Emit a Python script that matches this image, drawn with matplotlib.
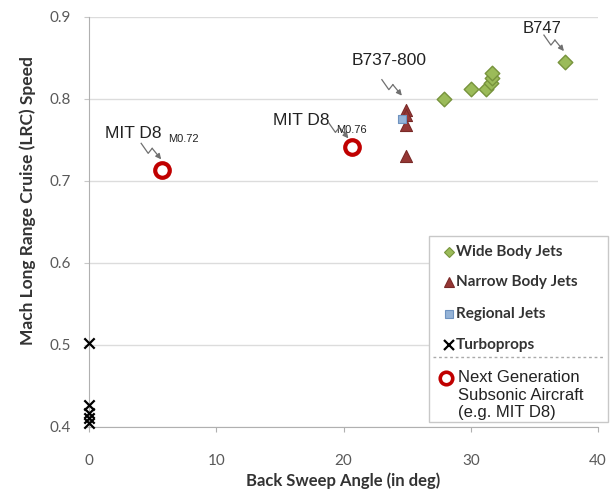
import numpy as np
import matplotlib.pyplot as plt
from matplotlib.patches import Rectangle
from matplotlib.lines import Line2D

# data
wide_x = [27.9, 30.0, 31.2, 31.6, 31.7, 31.7, 37.4]
wide_y = [0.800, 0.812, 0.812, 0.820, 0.826, 0.832, 0.845]
narrow_x = [24.9, 24.9, 24.9, 24.9]
narrow_y = [0.787, 0.780, 0.768, 0.730]
regional_x = [24.6]
regional_y = [0.776]
turbo_x = [0, 0, 0, 0, 0]
turbo_y = [0.502, 0.427, 0.417, 0.411, 0.405]
d8_x = [5.75, 20.7]
d8_y = [0.713, 0.741]

W, H = 616, 495
fig = plt.figure(figsize=(W/100, H/100), dpi=100)
ax = fig.add_axes([89/W, 1-427/H, (598-89)/W, (427-17)/H])

lab_font = 'Lato'
ann_font = 'Liberation Sans'
tick_col = '#595959'

ax.set_xlim(0, 40)
ax.set_ylim(0.4, 0.9)
ax.set_xticks([0, 10, 20, 30, 40])
ax.set_yticks([0.4, 0.5, 0.6, 0.7, 0.8, 0.9])
ax.set_yticklabels(['0.4', '0.5', '0.6', '0.7', '0.8', '0.9'])
ax.yaxis.grid(True, color='#dcdcdc', lw=1)
ax.set_axisbelow(True)
for s in ['top', 'right']:
    ax.spines[s].set_visible(False)
for s in ['left', 'bottom']:
    ax.spines[s].set_color('#b0b0b0')
ax.tick_params(axis='x', length=3.6, color='#b0b0b0', labelsize=11, pad=16)
ax.tick_params(axis='y', length=3.6, color='#c8c8c8', labelsize=11, pad=9.5)
for t in ax.get_xticklabels() + ax.get_yticklabels():
    t.set_fontfamily(lab_font)
    t.set_color(tick_col)
ax.set_xlabel('Back Sweep Angle (in deg)', fontfamily=lab_font, fontweight='bold', fontsize=12, color='#333333', labelpad=3)
ax.set_ylabel('Mach Long Range Cruise (LRC) Speed', fontfamily=lab_font, fontweight='bold', fontsize=12.5, color='#333333')
ax.yaxis.set_label_coords(-0.104, 0.553)

ax.scatter(wide_x, wide_y, marker='D', s=55, facecolor='#9bbb59', edgecolor='#77933c', lw=1, clip_on=False, zorder=3)
ax.scatter(narrow_x, narrow_y, marker='^', s=75, facecolor='#953735', edgecolor='#7a2a28', lw=0.8, clip_on=False, zorder=3)
ax.scatter(regional_x, regional_y, marker='s', s=40, facecolor='#95b3d7', edgecolor='#6f93c0', lw=0.8, clip_on=False, zorder=4)
ax.scatter(turbo_x, turbo_y, marker='x', s=55, color='black', lw=1.6, clip_on=False, zorder=3)
ax.scatter(d8_x, d8_y, marker='o', s=110, facecolor='white', edgecolor='#c00000', lw=3, clip_on=False, zorder=3)


def squiggle(x, y, dx=0, dy=0):
    # little zigzag arrow; offsets in pixels from the marker centre
    px = np.array([-21, -14, -10, -1]) + dx
    py = np.array([27, 17, 22, 11]) + dy
    base = ax.transData.transform((x, y))
    pts = np.column_stack([base[0] + px, base[1] + py])
    ax.annotate('', xy=(pts[-1][0], pts[-1][1]), xycoords='figure pixels',
                xytext=(pts[-2][0], pts[-2][1]), textcoords='figure pixels',
                arrowprops=dict(arrowstyle='-|>', color='#707070', lw=0.9, mutation_scale=8,
                                shrinkA=0, shrinkB=0))
    fig.add_artist(Line2D(pts[:-1, 0], pts[:-1, 1], transform=None, color='#707070', lw=0.9))


squiggle(37.4, 0.845)
squiggle(24.9, 0.787, dx=-3, dy=3)
squiggle(5.75, 0.713)
squiggle(20.7, 0.741, dx=-3, dy=-2)

ax.text(34.1, 0.8805, 'B747', fontfamily=ann_font, fontsize=12, color='#222222')
ax.text(20.67, 0.8415, 'B737-800', fontfamily=ann_font, fontsize=12.5, color='#222222')
ax.text(1.26, 0.7524, 'MIT D8', fontfamily=ann_font, fontsize=12.5, color='#222222')
ax.text(6.25, 0.7470, 'M0.72', fontfamily=ann_font, fontsize=8, color='#222222')
ax.text(14.46, 0.7683, 'MIT D8', fontfamily=ann_font, fontsize=12.5, color='#222222')
ax.text(19.4, 0.7590, 'M0.76', fontfamily=ann_font, fontsize=8, color='#222222')


# legend box in figure pixels
def fx(x):
    return x / W


def fy(y):
    return 1 - y / H


fig.add_artist(Rectangle((fx(429), fy(422)), fx(608) - fx(429), fy(236) - fy(422),
                         transform=fig.transFigure, facecolor='white', edgecolor='#c8c8c8', lw=1, zorder=5))
leg_font = 'Lato'
entries = [
    (252, 'D', 5, '#9bbb59', '#77933c', 'Wide Body Jets'),
    (282, '^', 7, '#953735', '#7a2a28', 'Narrow Body Jets'),
    (314, 's', 6, '#95b3d7', '#6f93c0', 'Regional Jets'),
    (345, 'x', 7, 'black', 'black', 'Turboprops'),
]
for yy, m, ms, fc, ec, lab in entries:
    fig.add_artist(Line2D([fx(449)], [fy(yy)], transform=fig.transFigure, marker=m, ms=ms,
                          markerfacecolor=fc, markeredgecolor=ec, mew=1.6 if m == 'x' else 0.8, ls='none', zorder=6))
    fig.text(fx(456), fy(yy), lab, fontfamily=leg_font, fontweight='bold', fontsize=11,
             color='#333333', va='center', zorder=6)
fig.add_artist(Line2D([fx(433), fx(605)], [fy(357), fy(357)], transform=fig.transFigure,
                      color='#aaaaaa', lw=1, ls=(0, (2, 2)), zorder=6))
fig.add_artist(Line2D([fx(446)], [fy(378)], transform=fig.transFigure, marker='o', ms=9,
                      markerfacecolor='white', markeredgecolor='#c00000', mew=2.6, ls='none', zorder=6))
fig.text(fx(458), fy(378), 'Next Generation', fontfamily=ann_font, fontsize=12, color='#222222', va='center', zorder=6)
fig.text(fx(458), fy(395), 'Subsonic Aircraft', fontfamily=ann_font, fontsize=12, color='#222222', va='center', zorder=6)
fig.text(fx(458), fy(412), '(e.g. MIT D8)', fontfamily=ann_font, fontsize=12, color='#222222', va='center', zorder=6)

fig.savefig('out.png', dpi=100)
